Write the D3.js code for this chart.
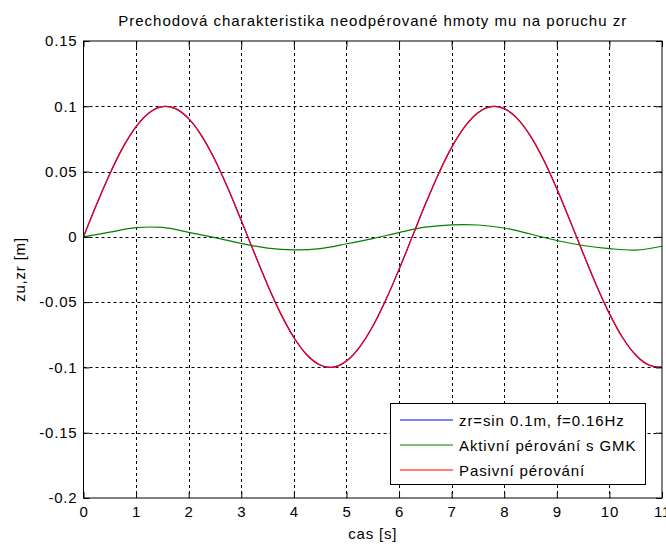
<!DOCTYPE html>
<html>
<head>
<meta charset="utf-8">
<script src="https://cdn.jsdelivr.net/npm/d3@7"></script>
<style>
body { margin: 0; background: #fff; }
svg { font-family: "Liberation Sans", Arial, sans-serif; }
</style>
</head>
<body>
<svg id="chart" width="666" height="546"></svg>
<script>
/* --- data --- */
// time samples [s] for the excitation and passive response
var t_main = [0,0.25,0.5,0.75,1,1.25,1.5,1.75,2,2.25,2.5,2.75,3,3.25,3.5,3.75,4,4.25,4.5,4.75,5,5.25,5.5,5.75,6,6.25,6.5,6.75,7,7.25,7.5,7.75,8,8.25,8.5,8.75,9,9.25,9.5,9.75,10,10.25,10.5,10.75,11];
var zr_blue = [0,0.0249,0.0482,0.0685,0.0844,0.0951,0.0998,0.0982,0.0905,0.0771,0.0588,0.0368,0.0125,-0.0125,-0.0368,-0.0588,-0.0771,-0.0905,-0.0982,-0.0998,-0.0951,-0.0844,-0.0685,-0.0482,-0.0249,0,0.0249,0.0482,0.0685,0.0844,0.0951,0.0998,0.0982,0.0905,0.0771,0.0588,0.0368,0.0125,-0.0125,-0.0368,-0.0588,-0.0771,-0.0905,-0.0982,-0.0998];
var pasivni_red = [0,0.0249,0.0482,0.0685,0.0844,0.0951,0.0998,0.0982,0.0905,0.0771,0.0588,0.0368,0.0125,-0.0125,-0.0368,-0.0588,-0.0771,-0.0905,-0.0982,-0.0998,-0.0951,-0.0844,-0.0685,-0.0482,-0.0249,0,0.0249,0.0482,0.0685,0.0844,0.0951,0.0998,0.0982,0.0905,0.0771,0.0588,0.0368,0.0125,-0.0125,-0.0368,-0.0588,-0.0771,-0.0905,-0.0982,-0.0998];
// active suspension response
var t_green = [0,0.5,1,1.5,2,2.5,3,3.5,4,4.5,5,5.5,6,6.5,7,7.5,8,8.5,9,9.5,10,10.5,11];
var aktivni_green = [0,0.0036,0.0070,0.0072,0.0035,-0.0006,-0.0051,-0.0086,-0.0100,-0.0090,-0.0053,-0.0013,0.0033,0.0074,0.0092,0.0091,0.0068,0.0022,-0.0028,-0.0066,-0.0090,-0.0101,-0.0072];

var x_ticks = [0,1,2,3,4,5,6,7,8,9,10,11];
var y_ticks = [-0.2,-0.15,-0.1,-0.05,0,0.05,0.1,0.15];
var y_tick_labels = ["-0.2","-0.15","-0.1","-0.05","0","0.05","0.1","0.15"];
var legend_labels = ["zr=sin 0.1m, f=0.16Hz","Aktivní pérování s GMK","Pasivní pérování"];
var legend_colors = ["#0000ff","#008000","#ff0000"];

/* --- layout --- */
var plot_l = 83.5, plot_r = 662, plot_t = 41, plot_b = 498;
var font = "'Liberation Sans', Arial, sans-serif";
var svg = d3.select("#chart");

var x = d3.scaleLinear().domain([0,11]).range([plot_l,plot_r]);
var y = d3.scaleLinear().domain([-0.2,0.15]).range([plot_b,plot_t]);

// grid
var grid = svg.append("g")
    .attr("stroke","#000")
    .attr("stroke-width",1)
    .attr("stroke-dasharray","3,3");
grid.selectAll("line.gx")
    .data(x_ticks.slice(1,-1))
    .join("line")
    .attr("class","gx")
    .attr("x1",d=>Math.round(x(d))+0.5).attr("x2",d=>Math.round(x(d))+0.5)
    .attr("y1",plot_t).attr("y2",plot_b);
grid.selectAll("line.gy")
    .data(y_ticks.slice(1,-1))
    .join("line")
    .attr("class","gy")
    .attr("y1",d=>Math.round(y(d))+0.5).attr("y2",d=>Math.round(y(d))+0.5)
    .attr("x1",plot_l).attr("x2",plot_r);

// series
var line = d3.line().curve(d3.curveCardinal);
function draw(ts,vals,color){
    svg.append("path")
        .attr("d",line(ts.map((t,i)=>[x(t),y(vals[i])])))
        .attr("fill","none")
        .attr("stroke",color)
        .attr("stroke-width",1.2);
}
draw(t_main,zr_blue,"#0000ff");
draw(t_green,aktivni_green,"#008000");
draw(t_main,pasivni_red,"#ff0000");

// axes with inward ticks on all sides
var xAxisB = d3.axisBottom(x).tickValues(x_ticks).tickSizeInner(-6).tickSizeOuter(0).tickPadding(8).tickFormat(d3.format("d"));
var xAxisT = d3.axisTop(x).tickValues(x_ticks).tickSizeInner(-6).tickSizeOuter(0).tickFormat("");
var yAxisL = d3.axisLeft(y).tickValues(y_ticks).tickSizeInner(-6).tickSizeOuter(0).tickPadding(6).tickFormat((d,i)=>y_tick_labels[i]);
var yAxisR = d3.axisRight(y).tickValues(y_ticks).tickSizeInner(-6).tickSizeOuter(0).tickFormat("");

function style_axis(g){
    g.select(".domain").remove();
    g.selectAll("line").attr("stroke","#000");
    g.selectAll("text").attr("fill","#000")
        .style("font-size","15px").style("letter-spacing","0.8px")
        .style("font-family",font);
}
svg.append("g").attr("transform","translate(0,"+plot_b+")").call(xAxisB).call(style_axis);
svg.append("g").attr("transform","translate(0,"+plot_t+")").call(xAxisT).call(style_axis);
svg.append("g").attr("transform","translate("+plot_l+",0)").call(yAxisL).call(style_axis);
svg.append("g").attr("transform","translate("+plot_r+",0)").call(yAxisR).call(style_axis);

// box
svg.append("rect")
    .attr("x",plot_l).attr("y",plot_t)
    .attr("width",plot_r-plot_l).attr("height",plot_b-plot_t)
    .attr("fill","none").attr("stroke","#000").attr("stroke-width",1);

// title and labels
svg.append("text")
    .attr("x",(plot_l+plot_r)/2).attr("y",26)
    .attr("text-anchor","middle")
    .style("font-size","15px").style("letter-spacing","1px")
    .text("Prechodová charakteristika neodpérované hmoty mu na poruchu zr");
svg.append("text")
    .attr("x",(plot_l+plot_r)/2).attr("y",539)
    .attr("text-anchor","middle")
    .style("font-size","15px").style("letter-spacing","0.8px")
    .text("cas [s]");
svg.append("text")
    .attr("transform","translate(25,"+((plot_t+plot_b)/2)+") rotate(-90)")
    .attr("text-anchor","middle")
    .style("font-size","15px").style("letter-spacing","0.8px")
    .text("zu,zr [m]");

// legend
var lg = svg.append("g");
lg.append("rect")
    .attr("x",390.5).attr("y",403.5)
    .attr("width",255).attr("height",81)
    .attr("fill","#fff").attr("stroke","#000").attr("stroke-width",1);
var rows = lg.selectAll("g.row")
    .data(legend_labels)
    .join("g")
    .attr("class","row")
    .attr("transform",(d,i)=>"translate(0,"+(420+i*25)+")");
rows.append("line")
    .attr("x1",400).attr("x2",453)
    .attr("stroke",(d,i)=>legend_colors[i]).attr("stroke-width",1.2);
rows.append("text")
    .attr("x",459).attr("y",5.5)
    .style("font-size","15px").style("letter-spacing","0.9px")
    .text(d=>d);
</script>
</body>
</html>
